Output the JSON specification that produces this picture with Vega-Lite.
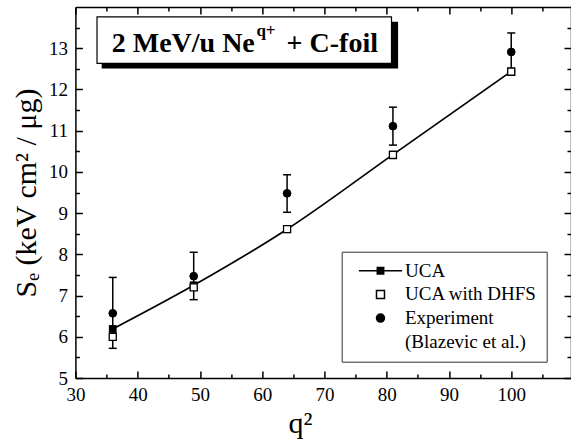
{
  "$schema": "https://vega.github.io/schema/vega-lite/v6.json",
  "width": 495.6,
  "height": 371,
  "autosize": {"type": "none"},
  "padding": {"left": 75.4, "top": 7, "right": 0, "bottom": 66},
  "config": {
    "font": "Liberation Serif",
    "view": {"stroke": null},
    "axis": {
      "domainColor": "black", "domainWidth": 1.5, "tickColor": "black", "tickWidth": 1.5,
      "labelColor": "black", "labelFont": "Liberation Serif", "labelFontSize": 19,
      "titleColor": "black", "titleFont": "Liberation Serif", "titleFontSize": 30, "titleFontWeight": "normal",
      "grid": false, "labelFlush": false, "labelOverlap": false
    }
  },
  "datasets": {
    "pts": [
      {"q2": 36, "series": "UCA", "Se": 6.19},
      {"q2": 49, "series": "UCA", "Se": 7.25},
      {"q2": 64, "series": "UCA", "Se": 8.61},
      {"q2": 81, "series": "UCA", "Se": 10.42},
      {"q2": 100, "series": "UCA", "Se": 12.44},
      {"q2": 36, "series": "UCA with DHFS", "Se": 6.0},
      {"q2": 49, "series": "UCA with DHFS", "Se": 7.2},
      {"q2": 64, "series": "UCA with DHFS", "Se": 8.61},
      {"q2": 81, "series": "UCA with DHFS", "Se": 10.41},
      {"q2": 100, "series": "UCA with DHFS", "Se": 12.43},
      {"q2": 36, "series": "Experiment", "Se": 6.57, "lo": 5.72, "hi": 7.44},
      {"q2": 49, "series": "Experiment", "Se": 7.47, "lo": 6.9, "hi": 8.05},
      {"q2": 64, "series": "Experiment", "Se": 9.48, "lo": 9.02, "hi": 9.93},
      {"q2": 81, "series": "Experiment", "Se": 11.11, "lo": 10.65, "hi": 11.57},
      {"q2": 100, "series": "Experiment", "Se": 12.91, "lo": 12.45, "hi": 13.37}
    ]
  },
  "resolve": {"axis": {"x": "independent", "y": "independent"}},
  "layer": [
    {
      "data": {"values": [{}]},
      "mark": {"type": "rect", "color": "black"},
      "encoding": {
        "x": {"datum": 34.22, "type": "quantitative", "scale": {"domain": [30, 109.6], "nice": false, "zero": false},
          "axis": {"orient": "bottom", "values": [30, 40, 50, 60, 70, 80, 90, 100], "tickSize": -7, "labelPadding": 14, "title": "q²", "titlePadding": 4, "titleX": 224.6}},
        "x2": {"datum": 81.83},
        "y": {"datum": 13.64, "type": "quantitative", "scale": {"domain": [5, 14], "nice": false, "zero": false}, "axis": null},
        "y2": {"datum": 12.51}
      }
    },
    {
      "data": {"values": [{}]},
      "mark": {"type": "rect", "fill": "white", "stroke": "black", "strokeWidth": 1.2},
      "encoding": {
        "x": {"datum": 33.47, "type": "quantitative",
          "axis": {"orient": "bottom", "values": [35, 45, 55, 65, 75, 85, 95, 105], "tickSize": -4, "labels": false, "domain": false, "title": null}},
        "x2": {"datum": 80.77},
        "y": {"datum": 13.76, "type": "quantitative", "axis": null},
        "y2": {"datum": 12.63}
      }
    },
    {
      "data": {"values": [{"t": "2 MeV/u Ne"}]},
      "mark": {"type": "text", "align": "left", "baseline": "alphabetic", "font": "Liberation Serif", "fontSize": 28, "fontWeight": "bold", "color": "black"},
      "encoding": {
        "x": {"datum": 35.83, "type": "quantitative",
          "axis": {"orient": "top", "values": [30, 40, 50, 60, 70, 80, 90, 100], "tickSize": -7, "labels": false, "title": null}},
        "y": {"datum": 12.91, "type": "quantitative", "axis": null},
        "text": {"field": "t"}
      }
    },
    {
      "data": {"values": [{"t": "q+"}]},
      "mark": {"type": "text", "align": "left", "baseline": "alphabetic", "font": "Liberation Serif", "fontSize": 17, "fontWeight": "bold", "color": "black"},
      "encoding": {
        "x": {"datum": 59.07, "type": "quantitative",
          "axis": {"orient": "top", "values": [35, 45, 55, 65, 75, 85, 95, 105], "tickSize": -4, "labels": false, "domain": false, "title": null}},
        "y": {"datum": 13.29, "type": "quantitative", "axis": null},
        "text": {"field": "t"}
      }
    },
    {
      "data": {"values": [{"t": "+ C-foil"}]},
      "mark": {"type": "text", "align": "left", "baseline": "alphabetic", "font": "Liberation Serif", "fontSize": 28, "fontWeight": "bold", "color": "black"},
      "encoding": {
        "x": {"datum": 63.92, "type": "quantitative", "axis": null},
        "y": {"datum": 12.91, "type": "quantitative", "axis": null},
        "text": {"field": "t"}
      }
    },
    {
      "data": {"name": "pts"},
      "transform": [{"filter": "datum.series === 'UCA'"}],
      "mark": {"type": "line", "color": "black", "strokeWidth": 1.7, "interpolate": "monotone"},
      "encoding": {
        "x": {"field": "q2", "type": "quantitative", "axis": null},
        "y": {"field": "Se", "type": "quantitative",
          "axis": {"orient": "left", "values": [5, 6, 7, 8, 9, 10, 11, 12, 13], "tickSize": -7, "labelPadding": 15, "title": "Sₑ (keV cm² / μg)", "titlePadding": 7}}
      }
    },
    {
      "data": {"name": "pts"},
      "transform": [{"filter": "datum.series === 'UCA'"}],
      "mark": {"type": "point", "shape": "square", "filled": true, "color": "black", "size": 60, "opacity": 1},
      "encoding": {
        "x": {"field": "q2", "type": "quantitative", "axis": null},
        "y": {"field": "Se", "type": "quantitative",
          "axis": {"orient": "left", "values": [5.5, 6.5, 7.5, 8.5, 9.5, 10.5, 11.5, 12.5, 13.5], "tickSize": -4, "labels": false, "domain": false, "title": null}}
      }
    },
    {
      "data": {"name": "pts"},
      "transform": [{"filter": "datum.series === 'Experiment'"}],
      "mark": {"type": "rule", "color": "black", "strokeWidth": 1.5},
      "encoding": {
        "x": {"field": "q2", "type": "quantitative", "axis": null},
        "y": {"field": "lo", "type": "quantitative", "axis": null},
        "y2": {"field": "hi"}
      }
    },
    {
      "data": {"name": "pts"},
      "transform": [{"filter": "datum.series === 'Experiment'"}],
      "mark": {"type": "tick", "orient": "horizontal", "color": "black", "size": 8, "thickness": 1.5, "opacity": 1},
      "encoding": {
        "x": {"field": "q2", "type": "quantitative", "axis": null},
        "y": {"field": "lo", "type": "quantitative", "axis": null}
      }
    },
    {
      "data": {"name": "pts"},
      "transform": [{"filter": "datum.series === 'Experiment'"}],
      "mark": {"type": "tick", "orient": "horizontal", "color": "black", "size": 8, "thickness": 1.5, "opacity": 1},
      "encoding": {
        "x": {"field": "q2", "type": "quantitative", "axis": null},
        "y": {"field": "hi", "type": "quantitative", "axis": null}
      }
    },
    {
      "data": {"name": "pts"},
      "transform": [{"filter": "datum.series === 'UCA with DHFS'"}],
      "mark": {"type": "point", "size": 50, "strokeWidth": 1.3, "opacity": 1},
      "encoding": {
        "x": {"field": "q2", "type": "quantitative", "axis": null},
        "y": {"field": "Se", "type": "quantitative",
          "axis": {"orient": "right", "values": [5, 6, 7, 8, 9, 10, 11, 12, 13], "tickSize": -7, "labels": false, "title": null}},
        "shape": {"field": "series", "type": "nominal",
          "scale": {"domain": ["UCA", "UCA with DHFS", "Experiment", "(Blazevic et al.)"], "range": ["M-5.4,0H5.4M-0.8,-0.8H0.8V0.8H-0.8Z", "square", "circle", "circle"]},
          "legend": {
            "title": null, "orient": "none", "legendX": 266.3, "legendY": 244.7, "padding": 9.5, "rowPadding": 3.7,
            "labelFontSize": 19, "labelFont": "Liberation Serif", "labelColor": "black",
            "symbolSize": 64, "symbolStrokeWidth": 1.5, "symbolOffset": 19.8, "labelOffset": 15,
            "strokeColor": "#333", "fillColor": "white",
            "encode": {
              "labels": {"update": {"dx": {"signal": "datum.label === '(Blazevic et al.)' ? -14 : 0"}}},
              "symbols": {"update": {"size": {"signal": "datum.value === 'Experiment' ? 95 : datum.value === 'UCA with DHFS' ? 45 : 64"}}}
            }
          }},
        "fill": {"field": "series", "type": "nominal",
          "scale": {"domain": ["UCA", "UCA with DHFS", "Experiment", "(Blazevic et al.)"], "range": ["black", "white", "black", "transparent"]}},
        "stroke": {"field": "series", "type": "nominal",
          "scale": {"domain": ["UCA", "UCA with DHFS", "Experiment", "(Blazevic et al.)"], "range": ["black", "black", "black", "transparent"]}}
      }
    },
    {
      "data": {"name": "pts"},
      "transform": [{"filter": "datum.series === 'Experiment'"}],
      "mark": {"type": "point", "size": 60, "strokeWidth": 1, "opacity": 1},
      "encoding": {
        "x": {"field": "q2", "type": "quantitative", "axis": null},
        "y": {"field": "Se", "type": "quantitative",
          "axis": {"orient": "right", "values": [5.5, 6.5, 7.5, 8.5, 9.5, 10.5, 11.5, 12.5, 13.5], "tickSize": -4, "labels": false, "domain": false, "title": null}},
        "shape": {"field": "series", "type": "nominal"},
        "fill": {"field": "series", "type": "nominal"},
        "stroke": {"field": "series", "type": "nominal"}
      }
    }
  ]
}
